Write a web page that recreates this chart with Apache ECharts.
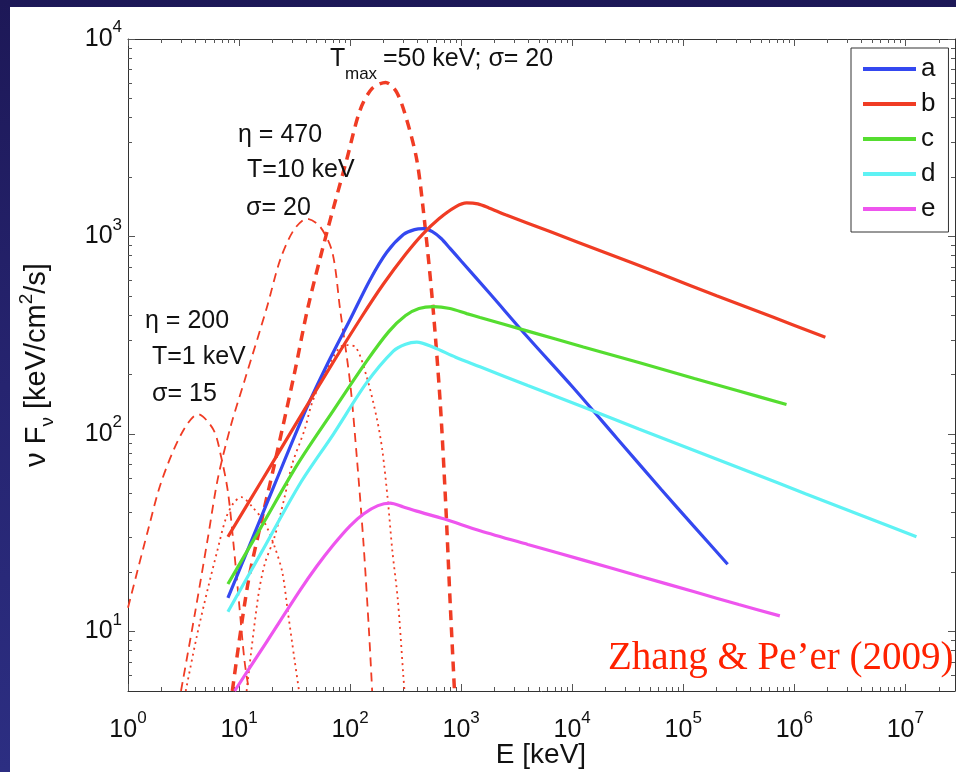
<!DOCTYPE html>
<html>
<head>
<meta charset="utf-8">
<script src="https://cdn.jsdelivr.net/npm/echarts@6/dist/echarts.min.js"></script>
<style>
  html, body { margin: 0; padding: 0; width: 956px; height: 772px; overflow: hidden;
    background: linear-gradient(180deg, #1d1857 0%, #262470 50%, #2c2e82 100%); }
  #chart { position: absolute; left: 10px; top: 7px; width: 946px; height: 765px; background: #ffffff; }
</style>
</head>
<body>
<div id="chart"></div>
<script>
// ---- Axis ranges and tick labels ----
const xRangeKeV = [1, 2.8e7];
const yRange = [5, 1e4];
const xTickExponents = [0, 1, 2, 3, 4, 5, 6, 7];
const yTickExponents = [1, 2, 3, 4];

// ---- Band-like spectra (solid) : energy [keV], nuFnu [keV/cm^2/s] ----
const seriesNames = ['a', 'b', 'c', 'd', 'e'];
const aE = [7.94, 12.6, 20.4, 39.8, 63.1, 100, 151, 214, 302, 380, 457, 550, 661, 794, 1000, 1820, 3981, 10000, 25120, 63100, 125900, 251200];
const aF = [14.8, 27.8, 53.7, 132, 229, 380, 603, 832, 1023, 1084, 1096, 1059, 977, 871, 752, 513, 309, 174, 95.5, 52.5, 33.9, 21.9];
const bE = [7.94, 15.85, 31.6, 63.1, 125.9, 199.5, 316, 447, 631, 891, 1122, 1413, 1778, 2512, 6310, 19950, 63100, 199500, 631000, 1.905e6];
const bF = [30.2, 57.5, 109.6, 208.9, 389, 575, 813, 1023, 1230, 1413, 1479, 1462, 1396, 1288, 1059, 828, 646, 501, 392, 309];
const cE = [7.94, 15.85, 33.9, 70.8, 141, 224, 316, 417, 562, 794, 1122, 1479, 3981, 12590, 39810, 125900, 316200, 851000];
const cF = [17.4, 33.9, 70.8, 131.8, 234, 331, 398, 432, 442, 432, 407, 389, 332, 276, 230, 191, 165, 141];
const dE = [7.94, 15.85, 35.5, 70.8, 141, 245, 316, 398, 562, 891, 1479, 3981, 12590, 39810, 125900, 398100, 1.259e6, 3.981e6, 1.259e7];
const dF = [12.6, 25.1, 56.2, 100, 182, 263, 285, 292, 275, 245, 219, 176, 137, 106, 82.6, 64.3, 49.9, 38.8, 30.2];
const eE = [9.12, 17.8, 35.5, 50.1, 70.8, 100, 132, 178, 229, 302, 398, 708, 1479, 3981, 12590, 39810, 125900, 316200, 741000];
const eF = [5.0, 8.9, 16.2, 21.4, 27.5, 34.3, 39.4, 43.4, 44.7, 42.7, 40.7, 37.1, 32.4, 27.6, 23.0, 19.1, 15.9, 13.7, 12.0];

// ---- Thermal components (dashed) ----
const th200E = [1.0, 1.51, 2.0, 3.02, 4.27, 5.89, 6.92, 7.94, 8.9, 10.0, 11.2, 12.3];
const th200F = [13.2, 32.4, 57.5, 100, 126, 105, 76, 51, 28, 14, 7.1, 5.0];
const th470E = [3.0, 4.0, 5.25, 6.46, 8.5, 11.2, 17.8, 23.4, 30.9, 40.7, 53.7, 69.2, 81.3, 100, 115, 132, 148, 158];
const th470F = [5.0, 12.3, 30, 60, 112, 186, 437, 759, 1072, 1230, 1122, 832, 427, 182, 76, 28, 10, 5.0];
const thMaxE = [8.7, 12.0, 16.2, 20.9, 31.6, 41.7, 61.7, 93.3, 123, 158, 209, 263, 324, 398, 457, 550, 646, 724, 794, 871];
const thMaxF = [5.0, 17.4, 38, 70.8, 204, 437, 1047, 2455, 4365, 5623, 6026, 5370, 3890, 2455, 1349, 479, 148, 45.7, 14.5, 5.0];

// ---- Dotted components ----
const dot1E = [3.31, 4.17, 5.25, 6.31, 7.59, 8.91, 10.5, 13.2, 17.0, 20.9, 24.5, 27.5, 31.6, 34.7];
const dot1F = [5.0, 9.5, 16.6, 25.1, 37.2, 44.7, 47.9, 42.7, 35.5, 26.9, 20.0, 12.6, 7.2, 5.0];
const dot2E = [11.7, 14.8, 17.0, 20.9, 25.7, 30.2, 38.9, 45.7, 63.1, 89.1, 112, 141, 174, 195, 219, 240, 269, 302, 309];
const dot2F = [5.0, 14.8, 21.9, 30.2, 47.9, 70.8, 105, 145, 219, 282, 275, 195, 120, 83, 45.7, 25.7, 14.5, 5.9, 5.0];

// ---- build helpers (log10 coordinates on linear value axes) ----
const L = Math.log10;
function pts(E, F) { return E.map((e, i) => [L(e), L(F[i])]); }
const X0 = L(xRangeKeV[0]), X1 = L(xRangeKeV[1]);
const Y0 = L(yRange[0]), Y1 = L(yRange[1]);
function minorVals(lo, hi) {
  const out = [];
  for (let n = -1; n <= 8; n++) for (let k = 2; k <= 9; k++) {
    const v = n + L(k);
    if (v > lo + 1e-9 && v < hi - 1e-9) out.push(v);
  }
  return out;
}
const xMajor = xTickExponents.slice();
const yMajor = yTickExponents.slice();
const xMinor = minorVals(X0, X1);
const yMinor = minorVals(Y0, Y1);

const FONT = "'Liberation Sans', Arial, Helvetica, sans-serif";
const TXT = '#111111';
const tickRich = {
  b: { fontSize: 25, fontFamily: FONT, color: TXT, lineHeight: 40 },
  s: { fontSize: 17, fontFamily: FONT, color: TXT, verticalAlign: 'top', lineHeight: 17 }
};
const tickFmt = v => '{b|10}{s|' + Math.round(v) + '}';

function xAxisDef(pos, major) {
  return {
    type: 'value', min: X0, max: X1, position: pos, gridIndex: 0,
    axisLine: { show: major, onZero: false, lineStyle: { color: '#333', width: 1 } },
    axisTick: { show: true, inside: true, length: major ? 7 : 4, customValues: major ? xMajor : xMinor,
                lineStyle: { color: '#555', width: 1 } },
    axisLabel: (major && pos === 'bottom') ? { show: true, customValues: xMajor, margin: 19, formatter: tickFmt, rich: tickRich }
                                           : { show: false },
    splitLine: { show: false }
  };
}
function yAxisDef(pos, major) {
  return {
    type: 'value', min: Y0, max: Y1, position: pos, gridIndex: 0,
    axisLine: { show: major, onZero: false, lineStyle: { color: '#333', width: 1 } },
    axisTick: { show: true, inside: true, length: major ? 7 : 4, customValues: major ? yMajor : yMinor,
                lineStyle: { color: '#555', width: 1 } },
    axisLabel: (major && pos === 'left') ? { show: true, customValues: yMajor, margin: 6, formatter: tickFmt, rich: tickRich }
                                         : { show: false },
    splitLine: { show: false }
  };
}

const RED = '#f03c24';
const solidColors = ['#3448f0', '#f03c24', '#55dd30', '#5ef2f4', '#ee55ee'];
const solidData = [[aE, aF], [bE, bF], [cE, cF], [dE, dF], [eE, eF]];

const series = [];
function addLine(name, E, F, color, width, type, smooth) {
  series.push({
    name: name, type: 'line', xAxisIndex: 0, yAxisIndex: 0,
    data: pts(E, F), showSymbol: false, symbol: 'none', smooth: smooth,
    lineStyle: { color: color, width: width, type: type }, itemStyle: { color: color },
    silent: true, animation: false
  });
}
addLine('th200', th200E, th200F, RED, 1.8, [9, 6], 0.3);
addLine('th470', th470E, th470F, RED, 1.8, [9, 6], 0.3);
addLine('dot1', dot1E, dot1F, RED, 1.8, [2, 4], 0.3);
addLine('dot2', dot2E, dot2F, RED, 1.8, [2, 4], 0.3);
addLine('thMax', thMaxE, thMaxF, RED, 3.5, [10, 7], 0.3);
seriesNames.forEach((n, i) => addLine(n, solidData[i][0], solidData[i][1], solidColors[i], 3.2, 'solid', 0.3));

function txt(x, y, text, size, extra) {
  return Object.assign({
    type: 'text', x: x, y: y, silent: true, z: 100,
    style: { text: text, fontSize: size, fontFamily: FONT, fill: TXT, align: 'left', verticalAlign: 'middle' }
  }, extra || {});
}

const graphics = [
  txt(320, 52, 'T', 25),
  txt(335, 67, 'max', 17),
  txt(373, 52, '=50 keV; σ= 20', 25),
  txt(228, 128, 'η = 470', 25),
  txt(237, 163, 'T=10 keV', 25),
  txt(236, 201, 'σ= 20', 25),
  txt(135, 314, 'η = 200', 25),
  txt(142, 350, 'T=1 keV', 25),
  txt(142, 387, 'σ= 15', 25),
  {
    type: 'text', x: 531, y: 748, silent: true, z: 100,
    style: { text: 'E [keV]', fontSize: 28, fontFamily: FONT, fill: TXT, align: 'center', verticalAlign: 'middle' }
  },
  {
    type: 'text', x: 598, y: 652, silent: true, z: 100,
    style: { text: 'Zhang & Pe’er (2009)', fontSize: 39, fontFamily: "'Liberation Serif', 'Times New Roman', serif",
             fill: '#ff2200', align: 'left', verticalAlign: 'middle' }
  },
  {
    type: 'text', x: 27, y: 358, rotation: Math.PI / 2, silent: true, z: 100,
    style: {
      text: '{n|ν F}{sub|ν}{n| [keV/cm}{sup|2}{n|/s]}',
      align: 'center', verticalAlign: 'middle',
      rich: {
        n: { fontSize: 29, fontFamily: FONT, fill: TXT, lineHeight: 40 },
        sub: { fontSize: 19, fontFamily: FONT, fill: TXT, verticalAlign: 'bottom', lineHeight: 19 },
        sup: { fontSize: 19, fontFamily: FONT, fill: TXT, verticalAlign: 'top', lineHeight: 19 }
      }
    }
  }
];

const chart = echarts.init(document.getElementById('chart'), null, { renderer: 'canvas' });
chart.setOption({
  animation: false,
  backgroundColor: '#ffffff',
  grid: { left: 118, right: 1, top: 32, bottom: 81, containLabel: false, outerBoundsMode: 'none' },
  xAxis: [xAxisDef('bottom', true), xAxisDef('bottom', false), xAxisDef('top', true), xAxisDef('top', false)],
  yAxis: [yAxisDef('left', true), yAxisDef('left', false), yAxisDef('right', true), yAxisDef('right', false)],
  legend: {
    data: seriesNames, orient: 'vertical', left: 841, top: 41,
    padding: [8, 13, 10, 12], itemGap: 9, itemWidth: 53, itemHeight: 4, icon: 'rect',
    borderColor: '#333', borderWidth: 1, backgroundColor: '#ffffff',
    textStyle: { fontSize: 26, fontFamily: FONT, color: TXT, lineHeight: 26 },
    selectedMode: false
  },
  graphic: graphics,
  series: series
});
</script>
</body>
</html>
